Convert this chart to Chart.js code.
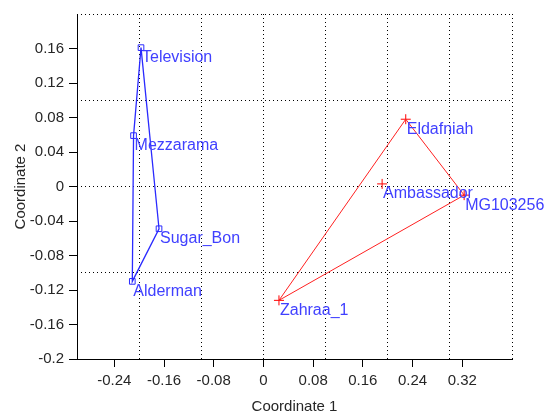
<!DOCTYPE html>
<html>
<head>
<meta charset="utf-8">
<script src="https://cdn.jsdelivr.net/npm/chart.js@4"></script>
<style>
  html, body { margin: 0; padding: 0; background: #fff; }
  #wrap { width: 545px; height: 414px; position: relative; }
</style>
</head>
<body>
<div id="wrap"><canvas id="mds-ctx"></canvas></div>
<script>
// DATA
const BLUE_NAMES = ['Television', 'Mezzarama', 'Sugar_Bon', 'Alderman'];
const BLUE_X = [-0.197, -0.209, -0.168, -0.211];
const BLUE_Y = [0.161, 0.059, -0.049, -0.110];
const BLUE_HULL = [0, 1, 3, 2, 0];

const RED_NAMES = ['Eldafniah', 'Ambassador', 'MG103256', 'Zahraa_1'];
const RED_X = [0.229, 0.191, 0.323, 0.025];
const RED_Y = [0.078, 0.003, -0.010, -0.132];
const RED_HULL = [0, 2, 3, 0];

const X_TICKS = [-0.24, -0.16, -0.08, 0, 0.08, 0.16, 0.24, 0.32];
const Y_TICKS = [-0.2, -0.16, -0.12, -0.08, -0.04, 0, 0.04, 0.08, 0.12, 0.16];
const X_GRID = [-0.2, -0.1, 0, 0.1, 0.2, 0.3, 0.4];
const Y_GRID = [-0.1, 0, 0.1, 0.2];

const toPts = (xs, ys) => xs.map((x, i) => ({x: x, y: ys[i], name: null}));
const hullPts = (xs, ys, order) => order.map(i => ({x: xs[i], y: ys[i]}));

const bluePts = toPts(BLUE_X, BLUE_Y);
bluePts.forEach((p, i) => p.name = BLUE_NAMES[i]);
const redPts = toPts(RED_X, RED_Y);
redPts.forEach((p, i) => p.name = RED_NAMES[i]);

const fmt = v => String(parseFloat(v.toFixed(2)));
const TEXT = '#262626';
const FONT = 'Liberation Sans, Arial, sans-serif';

// text label next to each point
const pointLabels = {
  id: 'pointLabels',
  afterDatasetsDraw(chart) {
    const ctx = chart.ctx;
    ctx.save();
    ctx.font = '16px ' + FONT;
    ctx.fillStyle = '#4040ff';
    ctx.textBaseline = 'middle';
    ctx.textAlign = 'left';
    chart.data.datasets.forEach((ds, di) => {
      if (!ds.isPoints) return;
      chart.getDatasetMeta(di).data.forEach((el, i) => {
        ctx.fillText(ds.data[i].name, el.x + 1, el.y + 10);
      });
    });
    ctx.restore();
  }
};

// dotted grid on its own axis, since it does not follow the tick labels
const gridAxis = (pos, ticks, horizontal) => ({
  position: pos,
  min: horizontal ? -0.3 : -0.2,
  max: horizontal ? 0.4 : 0.2,
  afterBuildTicks: s => { s.ticks = ticks.map(v => ({value: v})); },
  afterFit: s => { if (horizontal) s.height = 0; else s.width = 0; },
  ticks: {display: false},
  border: {display: false, dash: [1, 3]},
  grid: {color: '#000', lineWidth: 1, drawTicks: false}
});

new Chart(document.getElementById('mds-ctx'), {
  type: 'scatter',
  data: {
    datasets: [
      {
        data: hullPts(BLUE_X, BLUE_Y, BLUE_HULL),
        showLine: true,
        borderColor: '#2a2aff',
        borderWidth: 1.3,
        pointRadius: 0,
        tension: 0
      },
      {
        data: hullPts(RED_X, RED_Y, RED_HULL),
        showLine: true,
        borderColor: '#ff2020',
        borderWidth: 1,
        pointRadius: 0,
        tension: 0
      },
      {
        isPoints: true,
        data: bluePts,
        pointStyle: 'rect',
        pointRadius: 4,
        borderColor: '#2a2aff',
        backgroundColor: 'rgba(0,0,0,0)',
        borderWidth: 1
      },
      {
        isPoints: true,
        data: redPts,
        pointStyle: 'cross',
        pointRadius: 5,
        borderColor: '#ff0000',
        borderWidth: 1
      }
    ]
  },
  options: {
    responsive: true,
    maintainAspectRatio: false,
    animation: false,
    layout: {padding: {left: 0, top: 14, right: 33, bottom: 0}},
    plugins: {legend: {display: false}, tooltip: {enabled: false}},
    scales: {
      x: {
        min: -0.3,
        max: 0.4,
        afterBuildTicks: s => { s.ticks = X_TICKS.map(v => ({value: v})); },
        afterFit: s => { s.height = 55; },
        border: {color: '#000', width: 1},
        grid: {drawOnChartArea: false, drawTicks: true, tickLength: 8, color: '#000'},
        ticks: {padding: 5, color: TEXT, font: {size: 15, family: FONT}, callback: v => fmt(v), autoSkip: false, maxRotation: 0},
        title: {display: true, text: 'Coordinate 1', color: TEXT, font: {size: 15, family: FONT, lineHeight: 1}, padding: {top: 0, bottom: 0}}
      },
      y: {
        min: -0.2,
        max: 0.2,
        afterBuildTicks: s => { s.ticks = Y_TICKS.map(v => ({value: v})); },
        afterFit: s => { s.width = 77; },
        border: {color: '#000', width: 1},
        grid: {drawOnChartArea: false, drawTicks: true, tickLength: 8, color: '#000'},
        ticks: {padding: 5, color: TEXT, font: {size: 15, family: FONT}, callback: v => fmt(v), autoSkip: false},
        title: {display: true, text: 'Coordinate 2', color: TEXT, font: {size: 15, family: FONT}, padding: {top: 12, bottom: 0}}
      },
      xg: gridAxis('top', X_GRID, true),
      yg: gridAxis('right', Y_GRID, false)
    }
  },
  plugins: [pointLabels]
});
</script>
</body>
</html>
